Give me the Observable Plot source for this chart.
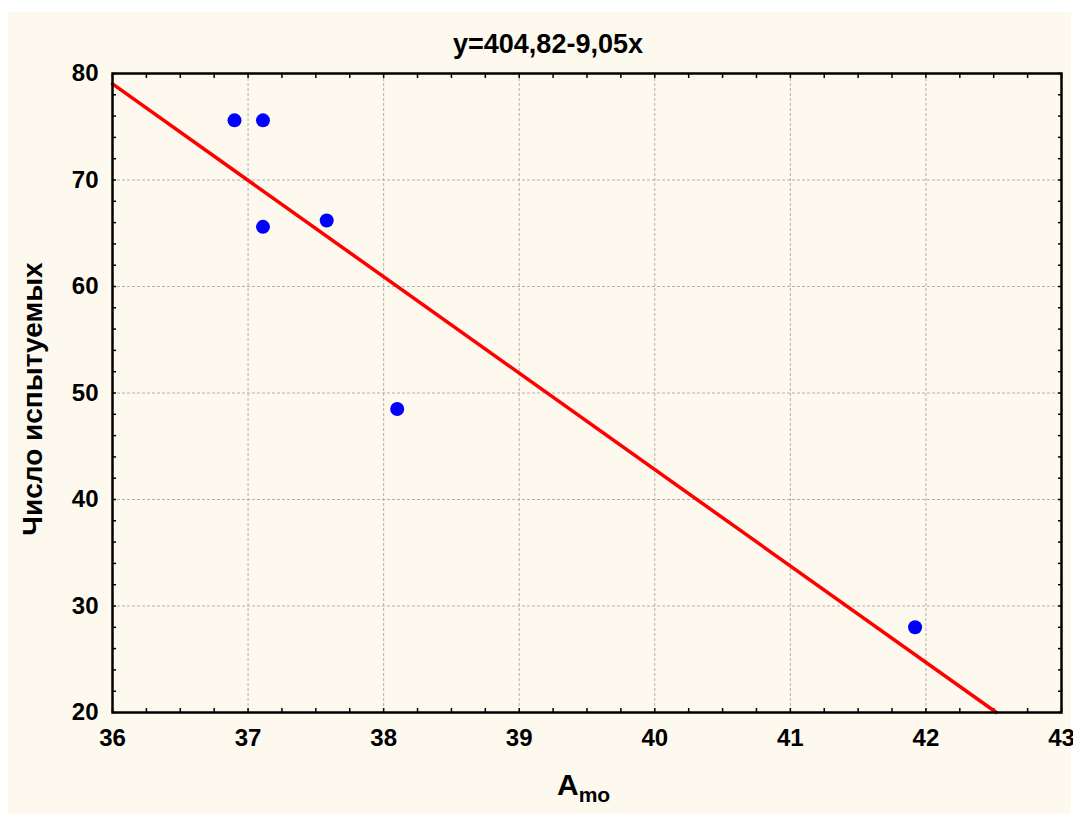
<!DOCTYPE html>
<html>
<head>
<meta charset="utf-8">
<script src="https://cdn.jsdelivr.net/npm/d3@7"></script>
<script src="https://cdn.jsdelivr.net/npm/@observablehq/plot@0.6"></script>
<style>
  html, body { margin: 0; padding: 0; background: #ffffff; }
  #wrap { position: relative; width: 1073px; height: 814px; overflow: hidden; background: #ffffff; }
  #panel { position: absolute; left: 8px; top: 12px; right: 2px; bottom: 0; background: #fdf9ef; }
  #chart { position: absolute; left: 0; top: 0; }
  #chart svg { background: transparent; }
  #xlabel { position: absolute; left: 557px; top: 768px; white-space: nowrap;
            font: bold 30px "Liberation Sans", Arial, sans-serif; color: #000; }
  #xlabel sub { font-size: 21px; vertical-align: -7px; }
</style>
</head>
<body>
<div id="wrap">
  <div id="panel"></div>
  <div id="chart"></div>
  <div id="xlabel">A<sub>mo</sub></div>
</div>
<script>
// Data
const amo = [36.9, 37.11, 37.11, 37.58, 38.1, 41.92];
const subjects = [75.6, 75.6, 65.6, 66.2, 48.5, 28.0];
// Regression line y = 404.82 - 9.05x, endpoints within the frame
const fitX = [36, 42.52];
const fitY = [79.02, 20];
const title = "y=404,82-9,05x";
const yTitle = "Число испытуемых";
const xTicks = [36, 37, 38, 39, 40, 41, 42, 43];
const yTicks = [20, 30, 40, 50, 60, 70, 80];
const xMinor = d3.range(36, 43.001, 0.25);
const yMinor = d3.range(20, 80.001, 2);

const points = amo.map((x, i) => ({x, y: subjects[i]}));
const fit = fitX.map((x, i) => ({x, y: fitY[i]}));

const font = '"Liberation Sans", Arial, sans-serif';

const chart = Plot.plot({
  width: 1073,
  height: 814,
  marginLeft: 112,
  marginRight: 12,
  marginTop: 73,
  marginBottom: 102,
  style: {background: "transparent", fontFamily: font, fontWeight: "bold", fontSize: "24px", color: "#000"},
  x: {domain: [36, 43]},
  y: {domain: [20, 80]},
  marks: [
    Plot.gridX(xTicks, {stroke: "#b0b0b0", strokeOpacity: 1, strokeDasharray: "3,2"}),
    Plot.gridY(yTicks, {stroke: "#b0b0b0", strokeOpacity: 1, strokeDasharray: "3,2"}),
    Plot.axisX(xMinor, {anchor: "bottom", tickSize: -4, text: null, label: null, strokeWidth: 1.5}),
    Plot.axisX(xMinor, {anchor: "top", tickSize: -4, text: null, label: null, strokeWidth: 1.5}),
    Plot.axisY(yMinor, {anchor: "left", tickSize: -4, text: null, label: null, strokeWidth: 1.5}),
    Plot.axisY(yMinor, {anchor: "right", tickSize: -4, text: null, label: null, strokeWidth: 1.5}),
    Plot.axisX(xTicks, {anchor: "bottom", tickSize: 0, tickPadding: 16, label: null, tickFormat: "d", fontSize: 24, fontWeight: "bold"}),
    Plot.axisY(yTicks, {anchor: "left", tickSize: 0, tickPadding: 14, label: null, tickFormat: "d", fontSize: 24, fontWeight: "bold"}),
    Plot.line(fit, {x: "x", y: "y", stroke: "#ff0000", strokeWidth: 3.5}),
    Plot.dot(points, {x: "x", y: "y", r: 7, fill: "#0000ff", stroke: null}),
    Plot.frame({stroke: "#000", strokeWidth: 2.5}),
    Plot.text([title], {frameAnchor: "top", dx: -39, dy: -29, lineAnchor: "middle", fontSize: 27, fontWeight: "bold", fill: "#000"}),
    Plot.text([yTitle], {frameAnchor: "left", rotate: -90, dx: -79, dy: 6, textAnchor: "middle", lineAnchor: "middle", fontSize: 28, fontWeight: "bold", fill: "#000"})
  ]
});
document.getElementById("chart").appendChild(chart);
</script>
</body>
</html>
